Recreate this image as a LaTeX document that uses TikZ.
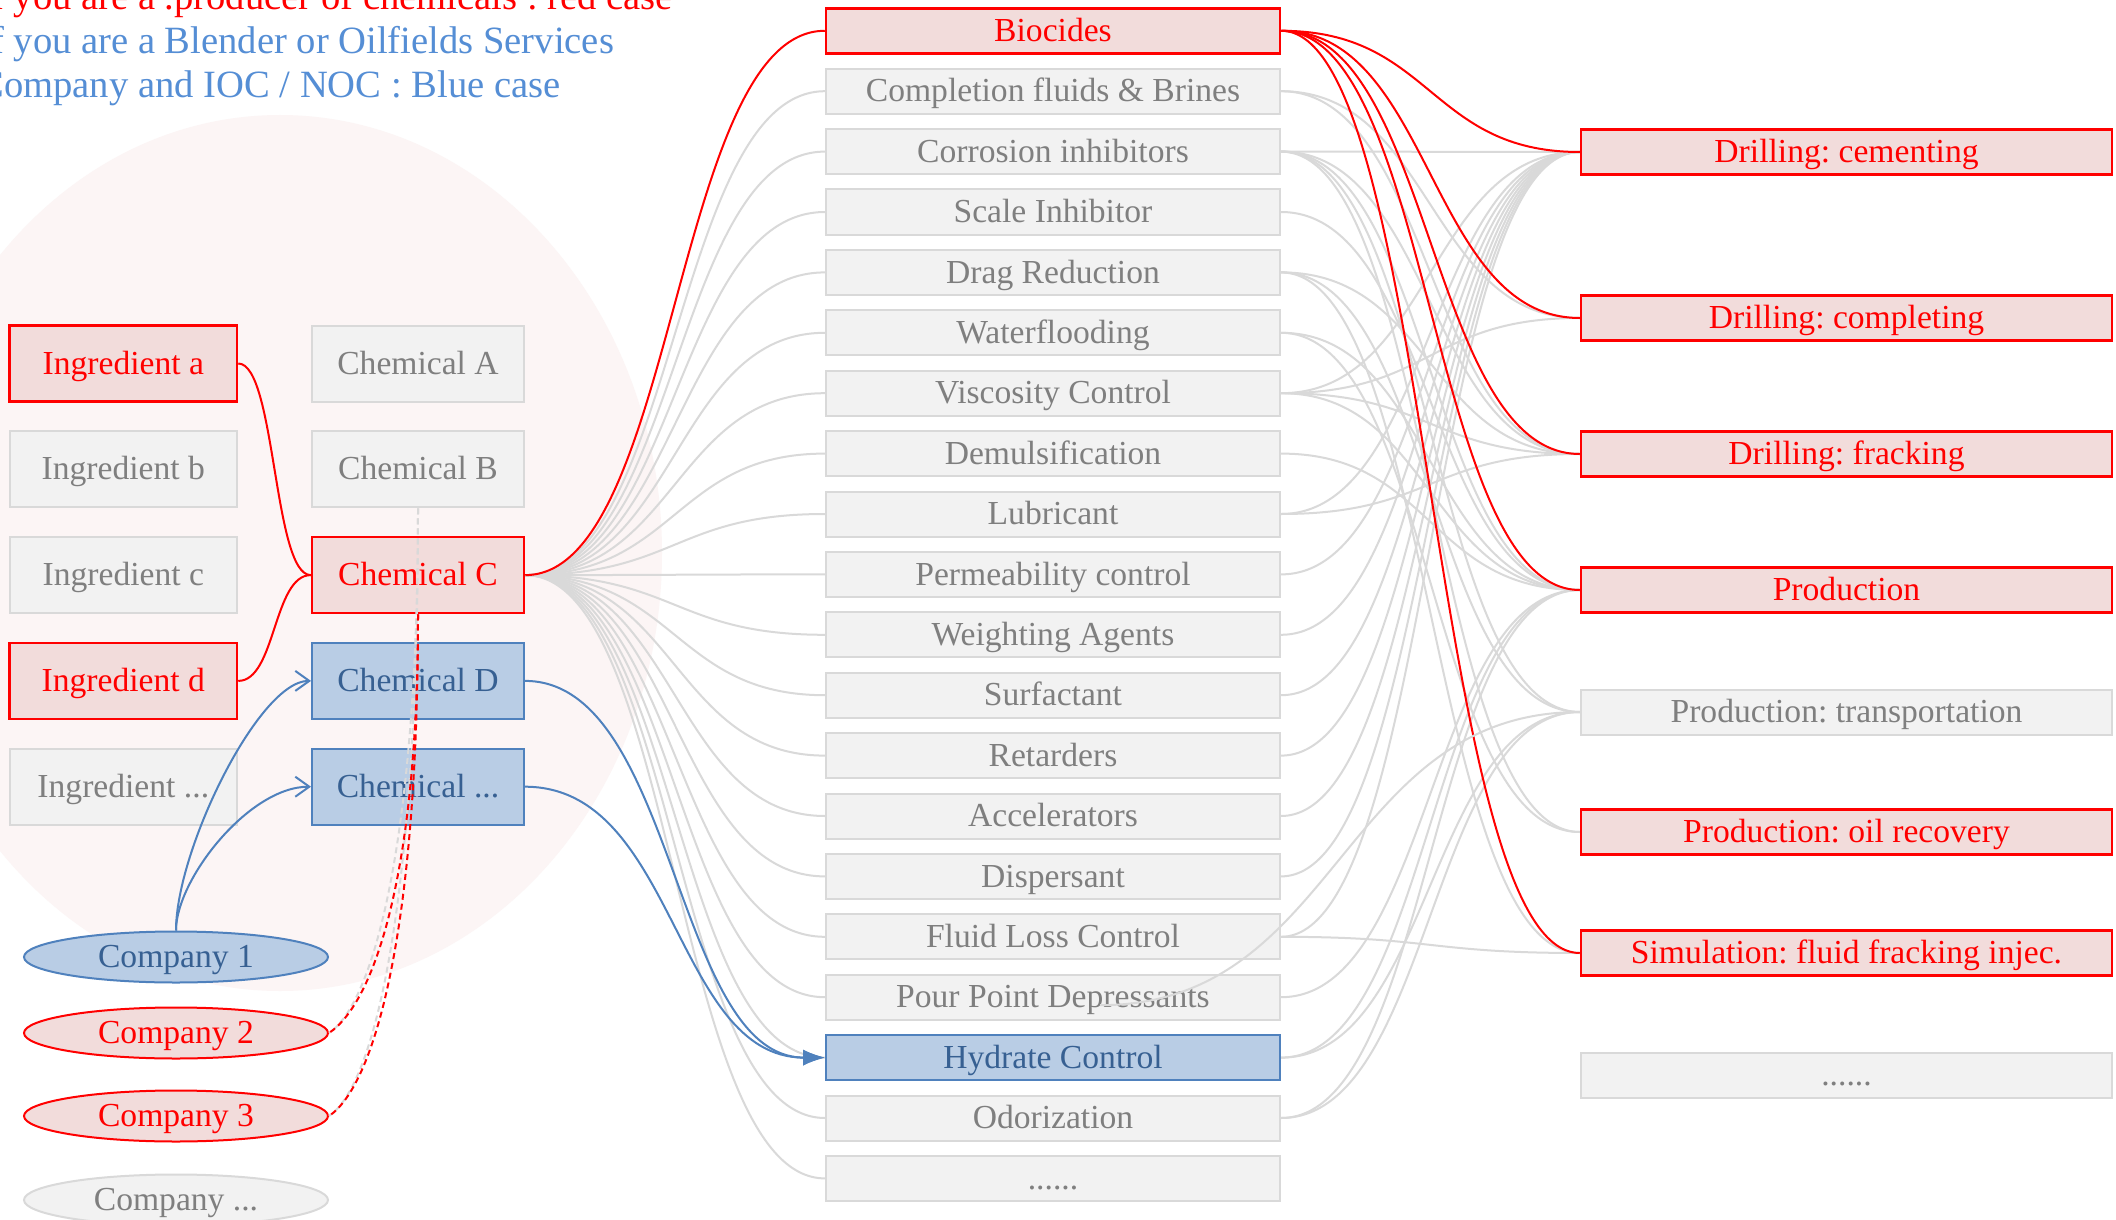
\documentclass[tikz,border=0pt]{standalone}
\usepackage{fontspec}
\setmainfont{Liberation Serif}
\usetikzlibrary{arrows.meta,shapes.geometric,calc}
\pgfdeclarelayer{backdrop}
\pgfdeclarelayer{wires}
\pgfsetlayers{backdrop,wires,main}
\definecolor{redc}{HTML}{FF0000}
\definecolor{redfill}{HTML}{F2DCDB}
\definecolor{grayfill}{HTML}{F2F2F2}
\definecolor{grayline}{HTML}{D9D9D9}
\definecolor{graytext}{HTML}{7F7F7F}
\definecolor{bluefill}{HTML}{B9CDE5}
\definecolor{blueline}{HTML}{4F81BD}
\definecolor{bluetext}{HTML}{376092}
\definecolor{titleblue}{HTML}{558ED5}
\definecolor{bgpink}{HTML}{FCF5F5}
\definecolor{wiregray}{HTML}{D9D9D9}
\frenchspacing
\begin{document}
\begin{tikzpicture}[x=0.5pt,y=-0.5pt,
  boxbase/.style={rectangle, inner sep=0pt, font=\fontsize{16.8}{20}\selectfont, text height=14pt, text depth=3.4pt},
  redbox/.style={boxbase, draw=redc, fill=redfill, text=redc, line width=1.25pt},
  graybox/.style={boxbase, draw=grayline, fill=grayfill, text=graytext, line width=1pt},
  bluebox/.style={boxbase, draw=blueline, fill=bluefill, text=bluetext, line width=1pt},
  ingsz/.style={minimum width=113.7pt, minimum height=38pt},
  chemsz/.style={minimum width=106pt, minimum height=38pt},
  midsz/.style={minimum width=227pt, minimum height=22.5pt},
  rgtsz/.style={minimum width=265.5pt, minimum height=22.5pt},
  compsz/.style={ellipse, inner sep=0pt, minimum width=152pt, minimum height=25.5pt, line width=1pt, font=\fontsize{16.8}{20}\selectfont, text height=13.5pt, text depth=3.4pt},
  wire/.style={draw=wiregray, line width=1pt},
  redwire/.style={draw=redc, line width=1pt},
  bluewire/.style={draw=blueline, line width=1pt},
  lnk/.style={out=0, in=180, out distance=75.5pt, in distance=75.5pt},
  shortlnk/.style={out=0, in=180, out distance=18.75pt, in distance=18.75pt},
  dashpat/.style={dash pattern=on 3pt off 2pt},
  titletext/.style={anchor=base west, inner sep=0pt, font=\fontsize{19.3}{22}\selectfont},
]
\useasboundingbox (0,0) rectangle (2116,1220);
\clip (0,0) rectangle (2116,1220);

% background ellipse
\begin{pgfonlayer}{backdrop}
\fill[white] (0,0) rectangle (2116,1220);
\fill[bgpink] (280,553) ellipse [x radius=191pt, y radius=219pt];
\end{pgfonlayer}

% title
\node[titletext, text=redc] (t1) at (-22,10) {If you are a .producer of chemicals : red case};
\node[titletext, text=titleblue] (t2) at (-22,54) {If you are a Blender or Oilfields Services};
\node[titletext, text=titleblue] (t3) at (-22,98) {Company and IOC / NOC : Blue case};

% ingredients
\node[redbox,ingsz]  (ia) at (123.3,363.5) {Ingredient a};
\node[graybox,ingsz] (ib) at (123.3,469.3) {Ingredient b};
\node[graybox,ingsz] (ic) at (123.3,575.1) {Ingredient c};
\node[redbox,ingsz]  (id) at (123.3,680.9) {Ingredient d};
\node[graybox,ingsz] (ie) at (123.3,786.7) {Ingredient ...};

% chemicals
\node[graybox,chemsz] (ca) at (418,363.5) {Chemical A};
\node[graybox,chemsz] (cb) at (418,469.3) {Chemical B};
\node[redbox,chemsz]  (cc) at (418,575.1) {Chemical C};
\node[bluebox,chemsz] (cd) at (418,680.9) {Chemical D};
\node[bluebox,chemsz] (ce) at (418,786.7) {Chemical ...};

% companies
\node[compsz, draw=blueline, fill=bluefill, text=bluetext] (k1) at (176,957) {Company 1};
\node[compsz, draw=redc, fill=redfill, text=redc] (k2) at (176,1033) {Company 2};
\node[compsz, draw=redc, fill=redfill, text=redc] (k3) at (176,1116) {Company 3};
\node[compsz, draw=grayline, fill=grayfill, text=graytext] (k4) at (176,1200) {Company ...};

% middle column
\node[redbox,midsz]  (m0)  at (1053,30.8)   {Biocides};
\node[graybox,midsz] (m1)  at (1053,91.2)   {Completion fluids \& Brines};
\node[graybox,midsz] (m2)  at (1053,151.6)  {Corrosion inhibitors};
\node[graybox,midsz] (m3)  at (1053,212.0)  {Scale Inhibitor};
\node[graybox,midsz] (m4)  at (1053,272.4)  {Drag Reduction};
\node[graybox,midsz] (m5)  at (1053,332.8)  {Waterflooding};
\node[graybox,midsz] (m6)  at (1053,393.2)  {Viscosity Control};
\node[graybox,midsz] (m7)  at (1053,453.6)  {Demulsification};
\node[graybox,midsz] (m8)  at (1053,514.0)  {Lubricant};
\node[graybox,midsz] (m9)  at (1053,574.4)  {Permeability control};
\node[graybox,midsz] (m10) at (1053,634.8)  {Weighting Agents};
\node[graybox,midsz] (m11) at (1053,695.2)  {Surfactant};
\node[graybox,midsz] (m12) at (1053,755.6)  {Retarders};
\node[graybox,midsz] (m13) at (1053,816.0)  {Accelerators};
\node[graybox,midsz] (m14) at (1053,876.4)  {Dispersant};
\node[graybox,midsz] (m15) at (1053,936.8)  {Fluid Loss Control};
\node[graybox,midsz] (m16) at (1053,997.2)  {Pour Point Depressants};
\node[bluebox,midsz] (m17) at (1053,1057.6) {Hydrate Control};
\node[graybox,midsz] (m18) at (1053,1118.0) {Odorization};
\node[graybox,midsz] (m19) at (1053,1178.4) {......};

% right column
\node[redbox,rgtsz]  (r0) at (1846.5,152) {Drilling: cementing};
\node[redbox,rgtsz]  (r1) at (1846.5,318) {Drilling: completing};
\node[redbox,rgtsz]  (r2) at (1846.5,454) {Drilling: fracking};
\node[redbox,rgtsz]  (r3) at (1846.5,590) {Production};
\node[graybox,rgtsz] (r4) at (1846.5,712) {Production: transportation};
\node[redbox,rgtsz]  (r5) at (1846.5,832) {Production: oil recovery};
\node[redbox,rgtsz]  (r6) at (1846.5,953) {Simulation: fluid fracking injec.};
\node[graybox,rgtsz] (r7) at (1846.5,1075) {......};

% connectors behind boxes
\begin{pgfonlayer}{wires}
\foreach \i in {1,...,19} \draw[wire] (cc.east) to[lnk] (m\i.west);
\foreach \a/\b in {1/1,1/2,2/0,2/2,2/3,2/4,2/5,3/3,4/2,4/4,4/6,5/3,5/5,6/0,6/1,6/2,6/3,7/3,8/0,8/2,9/0,10/0,11/0,12/0,13/0,14/0,15/0,15/6,16/3,17/3,17/4,18/3,18/4}
  \draw[wire] (m\a.east) to[lnk] (r\b.west);
\draw[redwire] (cc.east) to[lnk] (m0.west);
\foreach \b in {0,1,2,3,6} \draw[redwire] (m0.east) to[lnk] (r\b.west);
\draw[redwire] (ia.east) to[shortlnk] (cc.west);
\draw[redwire] (id.east) to[shortlnk] (cc.west);
\end{pgfonlayer}

% connectors drawn above boxes
\coordinate (ppx) at ($(m16.center)+(47,8)$);
\draw[wire] (ppx) to[out=0,in=180,out distance=120pt,in distance=120pt] (r4.west);

\draw[wire, dashpat] (cb.south) .. controls +(0,330) and +(45,-30) .. (k2.east);
\draw[wire, dashpat] (cb.south) .. controls +(0,400) and +(45,-30) .. (k3.east);
\draw[redwire, dashpat] (cc.south) .. controls +(0,260) and +(45,-30) .. (k2.east);
\draw[redwire, dashpat] (cc.south) .. controls +(0,320) and +(45,-30) .. (k3.east);

\draw[bluewire, -{Straight Barb[length=7pt,width=10pt]}] (k1.north) .. controls +(0,-81) and +(-52,0) .. (cd.west);
\draw[bluewire, -{Straight Barb[length=7pt,width=10pt]}] (k1.north) .. controls +(0,-51) and +(-62,0) .. (ce.west);
\draw[bluewire, -{Latex[length=11pt,width=8pt]}] (cd.east) to[lnk] (m17.west);
\draw[bluewire, -{Latex[length=11pt,width=8pt]}] (ce.east) to[lnk] (m17.west);
\end{tikzpicture}
\end{document}
